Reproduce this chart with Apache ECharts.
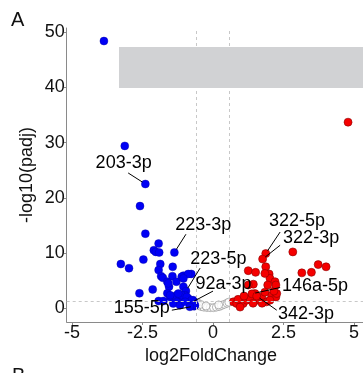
<!DOCTYPE html>
<html>
<head>
<meta charset="utf-8">
<script src="https://cdn.jsdelivr.net/npm/echarts@6/dist/echarts.min.js"></script>
<style>html,body{margin:0;padding:0;background:#fff;}#c{width:363px;height:373px;}</style>
</head>
<body>
<div id="c"></div>
<script>
// x tick labels and y tick labels
var xTicks = [-5, -2.5, 0, 2.5, 5];
var yTicks = [0, 10, 20, 30, 40, 50];
// thresholds
var fcCut = 0.585;
var padjCut = 1.3;
// down-regulated (blue) points [log2FC, -log10 padj]
var downPoints = [
  [-3.87, 48.4], [-3.13, 29.4], [-2.40, 22.5], [-2.59, 18.5], [-2.40, 13.5],
  [-1.93, 11.7], [-2.10, 10.5], [-2.03, 10.2], [-1.91, 10.1], [-1.37, 10.1],
  [-3.27, 8.0], [-2.98, 7.25], [-2.47, 8.8], [-1.87, 8.0], [-1.43, 7.5],
  [-1.93, 6.9], [-1.84, 5.8], [-1.78, 5.5], [-1.44, 5.8], [-1.30, 4.8],
  [-1.05, 5.9], [-0.77, 6.2], [-1.62, 4.8], [-1.56, 3.9], [-1.05, 3.9],
  [-2.61, 2.7], [-2.14, 3.4], [-1.62, 2.7], [-1.93, 1.3], [-1.76, 1.3],
  [-0.96, 3.1], [-0.78, 1.0], [-0.67, 0.36], [-1.52, 2.05], [-1.29, 2.35],
  [-1.17, 1.75], [-0.99, 2.35], [-0.88, 1.75], [-0.70, 1.45], [-1.05, 1.45],
  [-1.29, 1.15], [-1.41, 0.85], [-1.17, 0.55], [-0.82, 0.85], [-0.64, 0.55],
  [-1.11, 2.35], [-0.93, 2.05], [-0.76, 1.45], [-0.99, 1.15], [-0.70, 0.55],
  [-0.82, 0.25], [-1.59, 4.5], [-1.11, 5.7], [-0.88, 6.2], [-1.52, 2.35],
  [-1.23, 2.65], [-1.05, 5.4]
];
// up-regulated (red) points
var upPoints = [
  [4.79, 33.7], [2.83, 10.2], [1.87, 9.9], [1.76, 8.9], [1.87, 7.5],
  [1.25, 6.8], [1.51, 6.5], [1.99, 6.2], [2.02, 5.4], [2.20, 4.8],
  [1.94, 4.2], [1.43, 4.35], [3.15, 6.4], [3.49, 6.5], [3.73, 7.9],
  [4.01, 7.5], [0.72, 1.15], [0.84, 0.85], [1.07, 0.85], [1.20, 1.45],
  [1.31, 1.75], [1.49, 2.65], [1.57, 1.45], [1.73, 2.05], [1.90, 1.15],
  [2.08, 2.35], [2.23, 2.05], [2.26, 2.65], [1.25, 4.2], [1.84, 6.3],
  [0.96, 0.2], [0.89, 1.6], [1.42, 0.9], [1.74, 0.9], [2.02, 1.45],
  [2.16, 3.1], [1.84, 2.9], [1.10, 2.2], [2.23, 4.2], [1.38, 2.6], [1.55, 2.2]
];
// not significant (open) points
var nsPoints = [
  [-0.55, 0.95], [-0.50, 0.5], [-0.42, 0.3], [-0.33, 0.2], [-0.22, 0.12],
  [-0.10, 0.1], [0.02, 0.1], [0.12, 0.2], [0.22, 0.3], [0.30, 0.5],
  [0.40, 0.7], [0.50, 0.9], [0.56, 1.1], [-0.45, 0.7], [0.20, 0.6], [-0.25, 0.4]
];
// labels: [pointX, pointY, textX, textY, lineStartX, lineStartY, name]
var labelRows = [
  [-2.40, 22.5, -3.17, 26.3, -3.01, 24.5, '203-3p'],
  [-1.37, 10.1, -0.35, 15.1, -0.96, 13.4, '223-3p'],
  [-0.96, 3.1, 0.19, 8.9, -0.46, 7.25, '223-5p'],
  [-0.78, 1.0, 0.37, 4.3, 0.0, 3.1, '92a-3p'],
  [-0.67, 0.36, -2.53, -0.05, -1.46, -0.36, '155-5p'],
  [1.87, 9.9, 2.98, 15.8, 2.38, 13.8, '322-5p'],
  [1.76, 8.9, 3.48, 12.7, 2.38, 11.4, '322-3p'],
  [1.38, 2.6, 3.62, 4.0, 2.38, 3.75, '146a-5p'],
  [1.55, 2.2, 3.30, -1.0, 2.26, -0.36, '342-3p']
];

var FONT = '"Liberation Sans", Arial, sans-serif';
var chart = echarts.init(document.getElementById('c'), null, {renderer: 'canvas'});

function renderLabel(params, api) {
  var p = api.coord([api.value(0), api.value(1)]);
  var t = api.coord([api.value(2), api.value(3)]);
  var s = api.coord([api.value(4), api.value(5)]);
  var dx = p[0] - s[0], dy = p[1] - s[1];
  var d = Math.sqrt(dx * dx + dy * dy) || 1;
  var r = 3.5;
  var e = [p[0] - dx / d * r, p[1] - dy / d * r];
  return {
    type: 'group',
    children: [
      {type: 'line', shape: {x1: s[0], y1: s[1], x2: e[0], y2: e[1]},
       style: {stroke: '#000', lineWidth: 1}},
      {type: 'text', x: t[0], y: t[1],
       style: {text: api.value(6), fill: '#000', font: '18px ' + FONT,
               align: 'center', verticalAlign: 'middle'}}
    ]
  };
}

chart.setOption({
  animation: false,
  grid: {left: 66.7, right: 0, top: 28, bottom: 51},
  xAxis: {
    type: 'value', min: -5.19, max: 5.32,
    axisLine: {onZero: false, lineStyle: {color: '#8a8a8a', width: 1}},
    axisTick: {show: true, length: 3, lineStyle: {color: '#8a8a8a'}, customValues: xTicks},
    axisLabel: {customValues: xTicks, color: '#111', fontSize: 18, fontFamily: FONT, margin: 2},
    splitLine: {show: false}
  },
  yAxis: {
    type: 'value', min: -2.5, max: 50.76,
    axisLine: {show: true, onZero: false, lineStyle: {color: '#8a8a8a', width: 1}},
    axisTick: {show: true, length: 3, lineStyle: {color: '#8a8a8a'}, customValues: yTicks},
    axisLabel: {customValues: yTicks, color: '#111', fontSize: 18, fontFamily: FONT, margin: 2},
    splitLine: {show: false}
  },
  series: [
    {
      type: 'scatter', data: nsPoints, symbolSize: 8, z: 2,
      itemStyle: {color: '#fff', borderColor: '#8c8c8c', borderWidth: 0.8},
      markLine: {
        silent: true, symbol: 'none', label: {show: false},
        lineStyle: {color: '#c8c8c8', type: [3, 3], width: 1},
        data: [{xAxis: -fcCut}, {xAxis: fcCut}, {yAxis: padjCut}]
      }
    },
    {
      type: 'scatter', data: downPoints, symbolSize: 8, z: 3,
      itemStyle: {color: '#0000f5', borderColor: '#0000a0', borderWidth: 0.4, opacity: 1}
    },
    {
      type: 'scatter', data: upPoints, symbolSize: 8, z: 3,
      itemStyle: {color: '#f50000', borderColor: '#8b0000', borderWidth: 0.6, opacity: 1}
    },
    {
      type: 'custom', data: labelRows, renderItem: renderLabel, z: 5,
      encode: {x: [0, 2, 4], y: [1, 3, 5]}
    }
  ],
  graphic: [
    {type: 'rect', shape: {x: 119, y: 47, width: 244, height: 41}, style: {fill: '#d1d2d4'}, z: 100},
    {type: 'text', x: 11, y: 20, style: {text: 'A', font: '20px ' + FONT, fill: '#111', verticalAlign: 'middle'}},
    {type: 'text', x: 12, y: 376, style: {text: 'B', font: '20px ' + FONT, fill: '#111', verticalAlign: 'middle'}},
    {type: 'text', x: 211, y: 356, style: {text: 'log2FoldChange', font: '18px ' + FONT, fill: '#111', align: 'center', verticalAlign: 'middle'}},
    {type: 'text', x: 27, y: 175, rotation: Math.PI / 2, style: {text: '-log10(padj)', font: '18px ' + FONT, fill: '#111', align: 'center', verticalAlign: 'middle'}}
  ]
});
</script>
</body>
</html>
